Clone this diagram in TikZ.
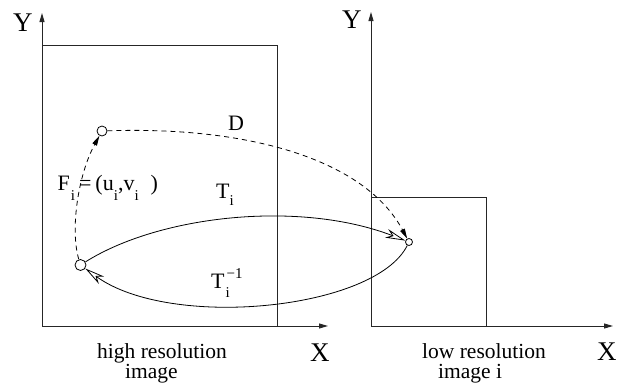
\documentclass[tikz,border=0pt]{standalone}
\usepackage{fontspec}
\setmainfont{Liberation Serif}
\usetikzlibrary{arrows.meta}
\newcommand\lowsub[2][8pt]{\raisebox{-#1}{\fontsize{15}{15}\selectfont #2}}
\begin{document}
\begin{tikzpicture}[x=1pt,y=-1pt,
  thinline/.style={line width=0.9pt,black!85},
  axis/.style={thinline,-{Triangle[length=9pt,width=5pt]}},
  dasharrow/.style={line width=0.8pt,dash pattern=on 5pt off 4pt,-{Triangle[length=10pt,width=5pt]}},
  openarrow/.style={line width=0.8pt,-{Stealth[open,length=20pt,width=9pt,inset=6pt]}},
  pt/.style={circle,draw,line width=0.8pt,fill=white,inner sep=0pt},
  axlbl/.style={font=\fontsize{27}{28}\selectfont,inner sep=0pt,anchor=base west},
  lbl/.style={font=\fontsize{22}{24}\selectfont,inner sep=0pt,anchor=base west},
  caplbl/.style={font=\fontsize{21.5}{22}\selectfont,inner sep=0pt,anchor=base west}]
\useasboundingbox (0,0) rectangle (627,383);
% axes
\coordinate (O1) at (42,326);
\coordinate (Y1) at (42,13);
\coordinate (X1) at (328,326);
\coordinate (O2) at (371,326);
\coordinate (Y2) at (371,12);
\coordinate (X2) at (613,326);
\draw[axis] (O1) -- (Y1);
\draw[axis] (O1) -- (X1);
\draw[axis] (O2) -- (Y2);
\draw[axis] (O2) -- (X2);
% images
\draw[thinline] (42,45) rectangle (277,326);
\draw[thinline] (371,197) rectangle (486,326);
% points
\node[pt,minimum size=10pt] (A) at (102,131) {};
\node[pt,minimum size=11pt] (B) at (80.5,265) {};
\node[pt,minimum size=7pt] (C) at (409,242) {};
% connectors
\draw[dasharrow] (A) .. controls (250,126) and (365,160) .. (C);
\draw[dasharrow] (B) .. controls (70,230) and (78,175) .. (A);
\draw[openarrow] (B) .. controls (160,215) and (300,200) .. (C);
\draw[openarrow] (C) .. controls (375,310) and (170,330) .. (B);
% labels
\node[axlbl] (ylab1) at (13,31) {Y};
\node[axlbl] (ylab2) at (342,28) {Y};
\node[axlbl] (xlab1) at (310,361) {X};
\node[axlbl] (xlab2) at (597,360) {X};
\node[lbl] (dlab) at (228,130) {D};
\node[lbl] (flab) at (57.5,190) {F\hspace{1pt}\lowsub[10pt]{i}\hspace{4pt}=\hspace{4pt}(u\lowsub[10pt]{i},v\lowsub[10pt]{i}\hspace{12pt})};
\node[lbl] (tlab) at (216,198) {T\lowsub[7pt]{i}};
\node[lbl] (tinvlab) at (211,288) {T\rlap{\hspace{1pt}\lowsub[9pt]{i}}\hspace{2pt}\raisebox{10pt}{\fontsize{15}{15}\selectfont −1}};
\node[caplbl] (hr1) at (97,358) {high resolution};
\node[caplbl] (hr2) at (125,378.3) {image};
\node[caplbl] (lr1) at (422,358) {low resolution};
\node[caplbl] (lr2) at (438,378.3) {image i};
\end{tikzpicture}
\end{document}
